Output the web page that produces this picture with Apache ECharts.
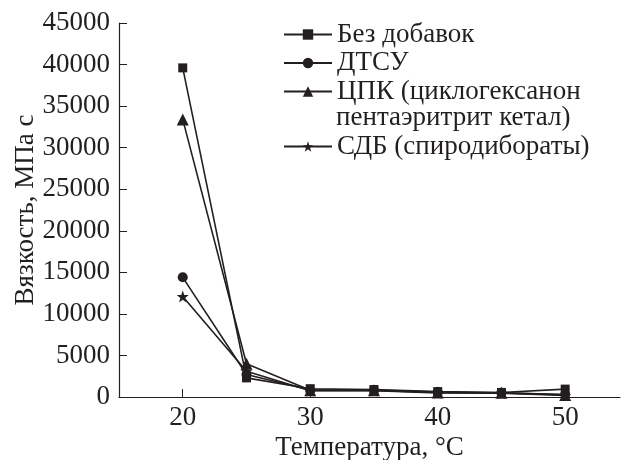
<!DOCTYPE html>
<html>
<head>
<meta charset="utf-8">
<script src="https://cdn.jsdelivr.net/npm/echarts@6/dist/echarts.min.js"></script>
<style>html,body{margin:0;padding:0;background:#fff}#c{width:622px;height:460px}</style>
</head>
<body>
<div id="c"></div>
<script>
const temperatures = [20, 25, 30, 35, 40, 45, 50];
const seriesNames = ['Без добавок', 'ДТСУ', 'ЦПК (циклогексанон', 'СДБ (спиродибораты)'];
const legendSecondLine = 'пентаэритрит кетал)';
const noAdditives = [39600, 2300, 1000, 900, 650, 550, 950];
const dtsu = [14400, 2700, 850, 850, 600, 500, 300];
const cpk = [33400, 4000, 800, 800, 550, 500, 250];
const sdb = [12100, 3100, 750, 750, 500, 450, 200];
const xTicks = [20, 30, 40, 50];
const yTicks = [0, 5000, 10000, 15000, 20000, 25000, 30000, 35000, 40000, 45000];

const font = 'Liberation Serif';
const fs = 27;
const ink = '#231f20';
function pairs(vals){ return temperatures.map((t,i)=>[t, vals[i]]); }
const mk = (name, data, symbol, size) => ({
  name, type: 'line', data: pairs(data), symbol, symbolSize: size,
  lineStyle: {color: ink, width: 1.6}, itemStyle: {color: ink}, z: 3
});
const legendText = {fontFamily: font, fontSize: fs, color: ink, lineHeight: 27};
const chart = echarts.init(document.getElementById('c'));
chart.setOption({
  animation: false,
  textStyle: {fontFamily: font, color: ink},
  grid: {left: 119, right: 2, top: 23, bottom: 63, containLabel: false, outerBoundsMode: 'none'},
  xAxis: {
    type: 'value', min: 15, max: 54.3,
    name: 'Температура, °C', nameLocation: 'middle', nameGap: 37, nameMoveOverlap: false,
    nameTextStyle: {fontFamily: font, fontSize: fs, color: ink},
    axisLine: {show: true, lineStyle: {color: ink, width: 1.2}},
    axisTick: {show: true, inside: true, length: 8, customValues: xTicks, lineStyle: {color: ink}},
    axisLabel: {customValues: xTicks, fontFamily: font, fontSize: fs, color: ink, margin: 7},
    splitLine: {show: false}
  },
  yAxis: {
    type: 'value', min: 0, max: 45000, interval: 5000,
    name: 'Вязкость, МПа с', nameLocation: 'middle', nameGap: 80, nameMoveOverlap: false,
    nameTextStyle: {fontFamily: font, fontSize: fs, color: ink},
    axisLine: {show: true, lineStyle: {color: ink, width: 1.2}},
    axisTick: {show: true, inside: true, length: 8, customValues: yTicks, lineStyle: {color: ink}},
    axisLabel: {customValues: yTicks, formatter: v => String(v), fontFamily: font, fontSize: fs, color: ink, margin: 9},
    splitLine: {show: false}
  },
  legend: [{
    orient: 'vertical', left: 283, top: 21, padding: 0, itemWidth: 48, itemHeight: 13, itemGap: 1.5,
    data: seriesNames.slice(0,3), textStyle: legendText
  },{
    orient: 'vertical', left: 283, top: 133, padding: 0, itemWidth: 48, itemHeight: 13,
    data: [seriesNames[3]], textStyle: legendText
  }],
  graphic: [{
    type: 'text', x: 336, y: 118,
    style: {text: legendSecondLine, font: fs + 'px "Liberation Serif"', fill: ink, verticalAlign: 'middle'}
  }],
  series: [
    mk(seriesNames[0], noAdditives, 'rect', 9),
    mk(seriesNames[1], dtsu, 'circle', 10),
    mk(seriesNames[2], cpk, 'triangle', 12),
    mk(seriesNames[3], sdb, 'path://M0,-10L2.35,-3.24L9.51,-3.09L3.8,1.24L5.88,8.09L0,4L-5.88,8.09L-3.8,1.24L-9.51,-3.09L-2.35,-3.24Z', 12)
  ]
});
</script>
</body>
</html>
